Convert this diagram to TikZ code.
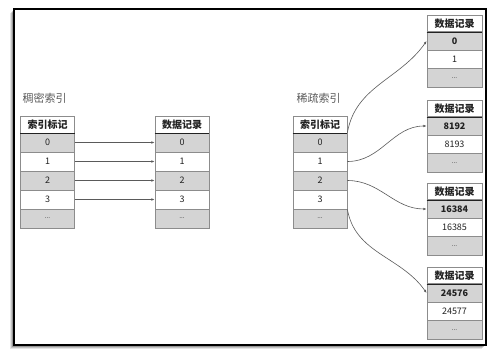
\documentclass[tikz,border=0pt]{standalone}
\usepackage{fontspec}
\setmainfont{Noto Sans CJK SC}
\usetikzlibrary{arrows.meta}

\newcommand{\moredots}{{\fontsize{6.5}{7}\selectfont...}}

\begin{document}
\begin{tikzpicture}[x=1pt, y=-1pt, font=\fontsize{9}{10}\selectfont]

\definecolor{idxgrid}{HTML}{8C8C8C}
\definecolor{idxshade}{HTML}{D4D4D4}
\definecolor{idxink}{HTML}{222222}
\definecolor{idxline}{HTML}{5A5A5A}

\tikzset{
  cellbox/.style={
    draw=idxgrid, line width=0.8pt, inner sep=0pt, text=idxink,
    minimum width=54pt, minimum height=19pt
  },
  headbox/.style={cellbox, minimum height=16.5pt,
    font=\fontsize{10}{11}\selectfont\bfseries},
  shaded/.style={fill=idxshade},
  plain/.style={fill=white},
  keyrow/.style={font=\fontsize{9}{10}\selectfont\bfseries},
  pointer/.style={
    draw=idxline, line width=0.6pt, -{Latex[length=3.2pt,width=2.6pt]}
  },
  heading/.style={anchor=west, text=idxline,
    font=\fontsize{11}{12}\selectfont}
}

\useasboundingbox (0,0) rectangle (499,362);

% Screenshot frame with its soft shadow on the lower left.
\foreach \blur/\op in {4/0.10,3/0.15,2/0.22}
  \fill[black, opacity=\op] (14-\blur,9+\blur) rectangle (486-\blur,345+\blur);
\fill[white] (14,9) rectangle (486,345);
\draw[black, line width=2.2pt] (14,9) rectangle (486,345);

% Dense index: every key points to its own record.
\node[heading] (densetitle) at (19,98) {稠密索引};
\node[headbox, plain] (didxh) at (47.5,125) {索引标记};
\node[headbox, plain] (drech) at (182,125) {数据记录};
\foreach \r/\y/\txt/\look in {0/142.5/0/shaded, 1/161.5/1/plain, 2/180.5/2/shaded,
                             3/199.5/3/plain, 4/218.5/\moredots/shaded}{%
  \node[cellbox, \look] (didx\r) at (47.5,\y) {\txt};
  \node[cellbox, \look] (drec\r) at (182,\y) {\txt};
}
\draw[idxink, line width=0.9pt] (didxh.south west) -- (didxh.south east);
\draw[idxink, line width=0.9pt] (drech.south west) -- (drech.south east);
\foreach \r in {0,1,2,3}
  \draw[pointer] (didx\r.east) -- (drec\r.west);

% Sparse index: one key per block of records.
\node[heading] (sparsetitle) at (293,98) {稀疏索引};
\node[headbox, plain] (sidxh) at (320,125) {索引标记};
\foreach \r/\y/\txt/\look in {0/142.5/0/shaded, 1/161.5/1/plain, 2/180.5/2/shaded,
                             3/199.5/3/plain, 4/218.5/\moredots/shaded}
  \node[cellbox, \look] (sidx\r) at (320,\y) {\txt};
\draw[idxink, line width=0.9pt] (sidxh.south west) -- (sidxh.south east);

% Record blocks, each headed by the record its index key names.
\foreach \blk/\top/\first/\second in {blka/15/0/1, blkb/100/8192/8193,
                                    blkc/183/16384/16385, blkd/267/24576/24577}{%
  \node[headbox, plain, minimum width=55pt] (\blk h) at (454.5,\top+8.5) {数据记录};
  \node[cellbox, shaded, keyrow, minimum width=55pt, minimum height=18.5pt]
    (\blk 0) at (454.5,\top+26) {\first};
  \node[cellbox, plain, minimum width=55pt, minimum height=18.5pt]
    (\blk 1) at (454.5,\top+44.5) {\second};
  \node[cellbox, shaded, minimum width=55pt, minimum height=18.5pt]
    (\blk 2) at (454.5,\top+63) {\moredots};
  \draw[idxink, line width=0.9pt] (\blk h.south west) -- (\blk h.south east);
}

\draw[pointer] (sidx0.north east) to[out=80, in=235] (blka0.west);
\draw[pointer] (sidx1.east) to[out=0, in=180] (blkb0.west);
\draw[pointer] (sidx2.east) to[out=0, in=180] (blkc0.west);
\draw[pointer] (sidx3.south east) to[out=-80, in=125] (blkd0.west);

\end{tikzpicture}
\end{document}
